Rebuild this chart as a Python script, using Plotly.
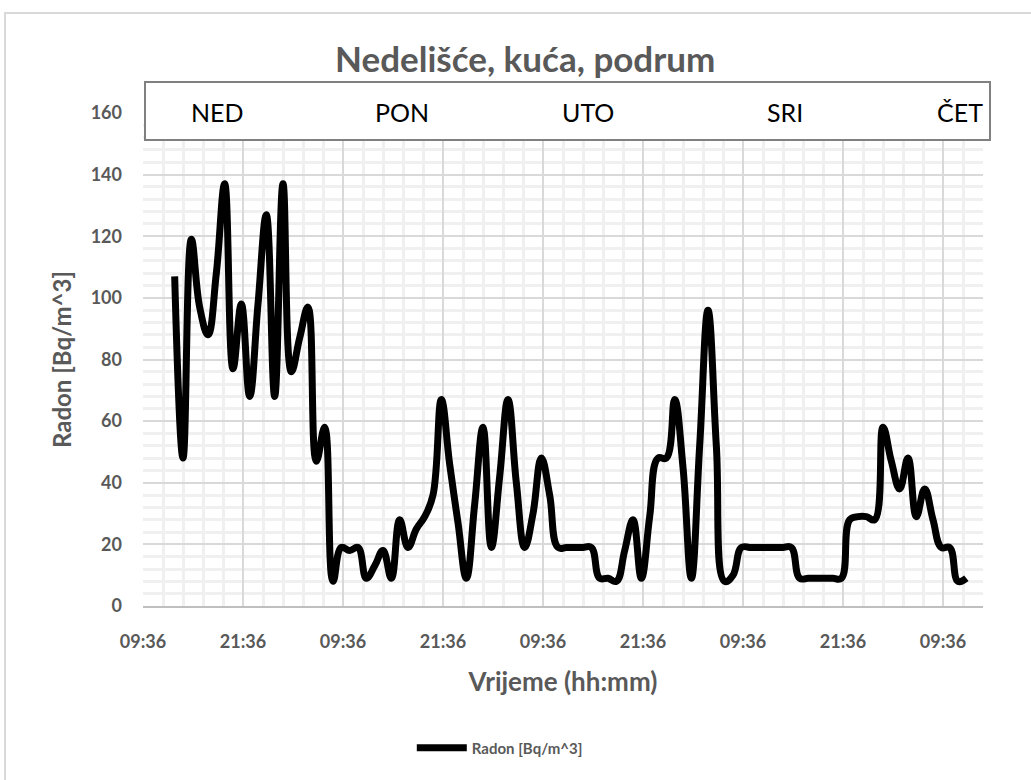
import datetime as dt
import plotly.graph_objects as go

# ---- data ----
start_time = dt.datetime(2020, 1, 5, 13, 24)   # first reading (Sunday)
step_hours = 1.0
radon = [107, 48, 119, 97, 88, 108, 137, 77, 98, 68,
         98, 127, 68, 137, 76, 87, 97, 47, 58, 8,
         19, 18, 19, 9, 13, 18, 9, 28, 19, 25,
         29, 36, 67, 46, 27, 9, 33, 58, 19, 42,
         67, 40, 19, 30, 48, 36, 19, 19, 19, 19,
         19, 9, 9, 8, 18, 28, 9, 29, 48, 48,
         67, 45, 9, 52, 96, 52, 8, 10, 19, 19,
         19, 19, 19, 19, 19, 9, 9, 9, 9, 9,
         9, 28, 29, 29, 28, 58, 47, 38, 48, 29,
         38, 28, 19, 19, 8, 9]
times = [start_time + dt.timedelta(hours=step_hours * i) for i in range(len(radon))]

day_labels = ["NED", "PON", "UTO", "SRI", "ČET"]
day_label_pos = [0.089, 0.308, 0.530, 0.764, 0.973]   # paper x of hand-placed text boxes

axis_start = dt.datetime(2020, 1, 5, 9, 36)
axis_end = dt.datetime(2020, 1, 9, 14, 24)

GRAY = "#595959"
FONT = "Lato"

# plot area at x 143..983, y 113..606
L, R, T, B = 143, 48, 113, 174
PW, PH = 840, 493

fig = go.Figure()
fig.add_trace(go.Scatter(
    x=times, y=radon, mode="lines", name="Radon [Bq/m^3]",
    line=dict(color="black", width=7, shape="spline", smoothing=1.2),
))

fig.update_layout(
    width=1031, height=780,
    margin=dict(l=L, r=R, t=T, b=B, autoexpand=False),
    paper_bgcolor="white", plot_bgcolor="white",
    font=dict(family=FONT, color=GRAY),
    title=dict(text="Nedelišće, kuća, podrum", x=0.455, xref="paper", xanchor="center",
               y=1 - 60 / 780, yref="container", yanchor="middle",
               font=dict(size=35, color=GRAY, family=FONT, weight="bold")),
    showlegend=True,
    legend=dict(orientation="h", x=0.320, xanchor="left", y=-0.288, yanchor="middle",
                font=dict(size=15, color=GRAY, family=FONT, weight="bold"), itemwidth=50,
                bgcolor="rgba(0,0,0,0)"),
)

fig.update_xaxes(
    type="date", range=[axis_start, axis_end], automargin=False,
    tick0=axis_start, dtick=12 * 3600 * 1000, tickformat="%H:%M",
    showgrid=True, gridcolor="#D9D9D9", gridwidth=1.5,
    minor=dict(dtick=int(2.4 * 3600 * 1000), tick0=axis_start, showgrid=True,
               gridcolor="#F0F0F0", gridwidth=2.5),
    showline=True, linecolor="#BFBFBF", linewidth=2,
    ticks="", ticklabelstandoff=18,
    tickfont=dict(size=18, color=GRAY, family=FONT, weight="bold"),
    title=dict(text="Vrijeme (hh:mm)", standoff=22,
               font=dict(size=26, color=GRAY, family=FONT, weight="bold")),
    zeroline=False,
)
fig.update_yaxes(
    range=[0, 160], dtick=20, tick0=0, automargin=False,
    showgrid=True, gridcolor="#D9D9D9", gridwidth=1.5,
    minor=dict(dtick=4, showgrid=True, gridcolor="#F0F0F0", gridwidth=2.5),
    showline=False, zeroline=False,
    ticks="", ticklabelstandoff=20,
    tickfont=dict(size=18, color=GRAY, family=FONT, weight="bold"),
    title=dict(text="Radon [Bq/m^3]", standoff=12,
               font=dict(size=24, color=GRAY, family=FONT, weight="bold")),
)

# outer chart-area border (extends past the cropped canvas on right/bottom)
fig.add_shape(type="rect", xref="paper", yref="paper",
              x0=(5 - 143) / PW, x1=(1100 - 143) / PW,
              y0=(606 - 900) / PH, y1=(606 - 13) / PH,
              line=dict(color="#D9D9D9", width=2), fillcolor="rgba(0,0,0,0)", layer="below")

# day-label box
fig.add_shape(type="rect", xref="paper", yref="paper",
              x0=(145 - 143) / PW, x1=(990 - 143) / PW,
              y0=(606 - 140) / PH, y1=(606 - 82) / PH,
              line=dict(color="#808080", width=2), fillcolor="white", layer="above")
for lbl, px in zip(day_labels, day_label_pos):
    fig.add_annotation(text=lbl, x=px, y=(606 - 112) / PH, xref="paper", yref="paper",
                       showarrow=False, xanchor="center", yanchor="middle",
                       font=dict(size=25, color="black", family=FONT))

fig.write_html("out.html", config={"displayModeBar": False},
               post_script="document.body.style.margin='0';")
